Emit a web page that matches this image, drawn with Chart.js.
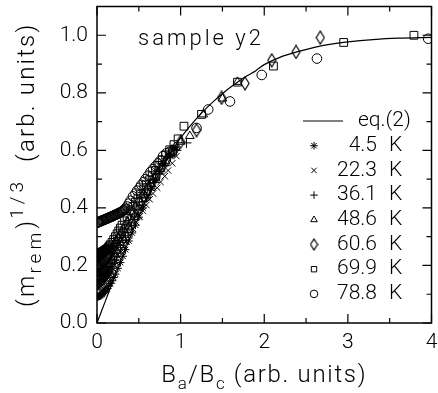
<!DOCTYPE html>
<html>
<head>
<meta charset="utf-8">
<script src="https://cdn.jsdelivr.net/npm/chart.js@4/dist/chart.umd.min.js"></script>
<style>
  html, body { margin: 0; padding: 0; background: #fff; }
  canvas { display: block; }
</style>
</head>
<body>
<canvas id="chart" width="438" height="393"></canvas>
<script>
// =========================================================================
// Data
// =========================================================================
const xTicks = [0, 1, 2, 3, 4];
const xMinor = [0.5, 1.5, 2.5, 3.5];
const yTicks = [0, 0.2, 0.4, 0.6, 0.8, 1.0];
const yMinor = [0.1, 0.3, 0.5, 0.7, 0.9];

// eq.(2) curve
const eqX = [0, 0.1, 0.2, 0.3, 0.4, 0.5, 0.6, 0.7, 0.8, 0.9, 1.0, 1.1, 1.2, 1.3, 1.4, 1.5, 1.6, 1.7, 1.8, 1.9, 2.0, 2.2, 2.4, 2.6, 2.8, 3.0, 3.3, 3.6, 4.0];
const eqY = [0, 0.076, 0.152, 0.226, 0.3, 0.37, 0.435, 0.495, 0.55, 0.6, 0.643, 0.68, 0.714, 0.744, 0.772, 0.797, 0.82, 0.841, 0.86, 0.877, 0.898, 0.925, 0.943, 0.958, 0.969, 0.977, 0.985, 0.99, 0.993];

const labels = ["4.5", "22.3", "36.1", "48.6", "60.6", "69.9", "78.8"];

// 4.5 K
const x45 = [0.00, 0.01, 0.02, 0.03, 0.04, 0.05, 0.06, 0.07, 0.08, 0.09, 0.10, 0.11, 0.12,
  0.14, 0.16, 0.18, 0.20, 0.22, 0.25, 0.28, 0.31, 0.34, 0.38, 0.42, 0.46, 0.50, 0.55, 0.60, 0.65, 0.70, 0.75, 0.80, 0.86, 0.92];
const y45 = [0.09, 0.091, 0.092, 0.094, 0.096, 0.098, 0.10, 0.103, 0.106, 0.109, 0.112, 0.116, 0.12,
  0.128, 0.137, 0.147, 0.158, 0.17, 0.19, 0.21, 0.232, 0.255, 0.285, 0.313, 0.34, 0.368, 0.40, 0.435, 0.468, 0.50, 0.528, 0.555, 0.585, 0.61];

// 22.3 K
const x223 = [0.00, 0.01, 0.02, 0.03, 0.04, 0.05, 0.06, 0.07, 0.08, 0.09, 0.10, 0.11, 0.12, 0.13, 0.14, 0.15,
  0.17, 0.19, 0.21, 0.23, 0.26, 0.29, 0.32, 0.35, 0.39, 0.43, 0.47, 0.51, 0.55, 0.59, 0.63, 0.67, 0.72, 0.76, 0.81, 0.85, 0.90, 0.95];
const y223 = [0.12, 0.121, 0.122, 0.124, 0.126, 0.128, 0.131, 0.134, 0.137, 0.14, 0.144, 0.148, 0.152, 0.157, 0.162, 0.167,
  0.177, 0.188, 0.20, 0.212, 0.23, 0.248, 0.265, 0.283, 0.305, 0.327, 0.35, 0.37, 0.39, 0.41, 0.43, 0.45, 0.47, 0.49, 0.51, 0.53, 0.555, 0.58];

// 36.1 K
const x361 = [0.00, 0.01, 0.02, 0.03, 0.04, 0.05, 0.06, 0.07, 0.08, 0.09, 0.10, 0.11, 0.12, 0.13, 0.14, 0.15,
  0.17, 0.19, 0.21, 0.23, 0.25, 0.28, 0.31, 0.34, 0.37, 0.41, 0.45, 0.49, 0.54, 0.59, 0.64, 0.69, 0.75, 0.81, 0.88, 0.95, 1.07];
const y361 = [0.14, 0.141, 0.142, 0.144, 0.146, 0.148, 0.151, 0.154, 0.157, 0.16, 0.164, 0.168, 0.172, 0.176, 0.18, 0.185,
  0.195, 0.206, 0.218, 0.23, 0.243, 0.262, 0.28, 0.298, 0.315, 0.337, 0.36, 0.382, 0.41, 0.437, 0.462, 0.488, 0.518, 0.548, 0.578, 0.60, 0.626];

// 48.6 K
const x486 = [0.00, 0.01, 0.02, 0.03, 0.04, 0.05, 0.06, 0.07, 0.08, 0.09, 0.10, 0.11, 0.12, 0.13, 0.14, 0.15,
  0.17, 0.19, 0.21, 0.23, 0.25, 0.28, 0.31, 0.34, 0.38, 0.42, 0.46, 0.50, 0.55, 0.60, 0.65, 0.70, 0.76, 0.82, 0.88, 0.94, 1.00, 1.11, 1.27, 1.50, 1.68];
const y486 = [0.17, 0.171, 0.172, 0.174, 0.175, 0.177, 0.179, 0.181, 0.184, 0.187, 0.19, 0.193, 0.197, 0.201, 0.205, 0.21,
  0.22, 0.23, 0.24, 0.251, 0.262, 0.278, 0.295, 0.312, 0.335, 0.357, 0.38, 0.402, 0.43, 0.455, 0.482, 0.505, 0.535, 0.562, 0.59, 0.612, 0.63, 0.65, 0.725, 0.78, 0.838];

// 60.6 K
const x606 = [0.00, 0.01, 0.02, 0.03, 0.04, 0.05, 0.06, 0.07, 0.08, 0.09, 0.10, 0.11, 0.12, 0.13, 0.14, 0.15,
  0.17, 0.19, 0.21, 0.23, 0.25, 0.27, 0.30, 0.33, 0.36, 0.39, 0.43, 0.47, 0.51, 0.56, 0.61, 0.66, 0.71, 0.77, 0.83, 0.90, 1.00, 1.19, 1.49, 1.77, 2.09, 2.38, 2.67];
const y606 = [0.20, 0.201, 0.202, 0.203, 0.204, 0.206, 0.208, 0.21, 0.213, 0.216, 0.219, 0.222, 0.226, 0.23, 0.234, 0.239,
  0.25, 0.26, 0.27, 0.28, 0.29, 0.30, 0.315, 0.33, 0.345, 0.36, 0.378, 0.398, 0.418, 0.442, 0.465, 0.49, 0.512, 0.54, 0.565, 0.595, 0.63, 0.67, 0.783, 0.833, 0.913, 0.942, 0.992];

// 69.9 K
const x699 = [0.000, 0.005, 0.010, 0.015, 0.020, 0.025, 0.030, 0.035, 0.040, 0.045, 0.050, 0.055, 0.060, 0.065, 0.070, 0.075, 0.080, 0.085, 0.090, 0.095, 0.100, 0.105, 0.110, 0.115, 0.120,
  0.13, 0.14, 0.15, 0.16, 0.18, 0.20, 0.22, 0.24, 0.26, 0.28, 0.30, 0.33, 0.36, 0.40, 0.43, 0.46, 0.49, 0.52, 0.56, 0.59, 0.63, 0.66, 0.70, 0.74, 0.78, 0.82, 0.87, 0.92, 0.97, 1.04, 1.25, 1.68, 2.11, 2.95, 3.79];
const y699 = [0.238, 0.239, 0.239, 0.240, 0.241, 0.241, 0.242, 0.243, 0.243, 0.244, 0.245, 0.245, 0.246, 0.247, 0.247, 0.248, 0.249, 0.250, 0.251, 0.252, 0.253, 0.254, 0.255, 0.256, 0.257,
  0.26, 0.264, 0.268, 0.272, 0.28, 0.29, 0.30, 0.31, 0.32, 0.33, 0.34, 0.355, 0.37, 0.39, 0.405, 0.42, 0.434, 0.448, 0.466, 0.48, 0.498, 0.512, 0.53, 0.548, 0.566, 0.584, 0.602, 0.62, 0.64, 0.684, 0.725, 0.837, 0.893, 0.975, 1.0];

// 78.8 K
const x788 = [0.00, 0.01, 0.02, 0.03, 0.04, 0.05, 0.06, 0.07, 0.08, 0.09, 0.10, 0.11, 0.12, 0.13, 0.14, 0.15, 0.16, 0.17, 0.18, 0.19, 0.20, 0.21, 0.22, 0.23, 0.24, 0.25, 0.26, 0.27, 0.28, 0.29, 0.30, 0.31, 0.32, 0.33, 0.34,
  0.36, 0.38, 0.40, 0.43, 0.46, 0.48, 0.51, 0.53, 0.56, 0.58, 0.61, 0.64, 0.67, 0.70, 0.73, 0.76, 0.79, 0.83, 0.87, 0.91, 1.19, 1.33, 1.59, 1.97, 2.63, 3.96];
const y788 = [0.348, 0.349, 0.351, 0.352, 0.353, 0.355, 0.356, 0.357, 0.358, 0.359, 0.361, 0.362, 0.363, 0.364, 0.366, 0.367, 0.368, 0.369, 0.371, 0.372, 0.373, 0.375, 0.376, 0.377, 0.379, 0.380, 0.382, 0.383, 0.385, 0.386, 0.388, 0.390, 0.392, 0.395, 0.398,
  0.405, 0.415, 0.425, 0.44, 0.45, 0.46, 0.47, 0.48, 0.49, 0.50, 0.512, 0.525, 0.535, 0.545, 0.555, 0.565, 0.58, 0.59, 0.595, 0.60, 0.678, 0.742, 0.77, 0.862, 0.919, 0.988];

// =========================================================================
// Styling helpers
// =========================================================================
const FONT = 'Roboto, "DejaVu Sans", sans-serif';
const WEIGHT = 300;

function pts(xs, ys) {
  return xs.map((x, i) => ({ x, y: ys[i] }));
}

// tall narrow diamond marker
function diamond(w, h) {
  const c = document.createElement("canvas");
  c.width = w + 2;
  c.height = h + 2;
  const g = c.getContext("2d");
  g.strokeStyle = "#000";
  g.lineWidth = 1.2;
  g.beginPath();
  g.moveTo(c.width / 2, 1);
  g.lineTo(c.width - 1, c.height / 2);
  g.lineTo(c.width / 2, c.height - 1);
  g.lineTo(1, c.height / 2);
  g.closePath();
  g.stroke();
  return c;
}

const styles = ["star", "crossRot", "cross", "triangle", diamond(8, 13), "rect", "circle"];
const radii = [4, 4.5, 5, 5, 5, 5.5, 4.8];
const legendStyles = ["star", "crossRot", "cross", "triangle", diamond(7, 11), "rect", "circle"];
const series = [[x45, y45], [x223, y223], [x361, y361], [x486, y486], [x606, y606], [x699, y699], [x788, y788]];

const datasets = [
  {
    label: "eq.(2)",
    data: pts(eqX, eqY),
    showLine: true,
    borderColor: "#000",
    borderWidth: 1.2,
    pointRadius: 0,
    tension: 0.3,
  },
  ...series.map(([xs, ys], i) => ({
    label: labels[i] + " K",
    data: pts(xs, ys),
    showLine: false,
    pointStyle: styles[i],
    pointRadius: radii[i],
    borderColor: "#000",
    backgroundColor: "rgba(0,0,0,0)",
    borderWidth: 1,
  })),
];

// =========================================================================
// Plugins: frame, inward ticks, titles, legend
// =========================================================================
// parts: {t, s} with s = "sub" | "sup" | undefined
function drawRich(ctx, parts, o) {
  const small = Math.round(o.size * o.smallScale);
  const setFor = (p) => {
    ctx.font = `${WEIGHT} ${p.s ? small : o.size}px ${FONT}`;
    ctx.letterSpacing = (p.s ? o.smallSpacing : o.spacing) + "px";
  };
  let w = 0;
  for (const p of parts) {
    setFor(p);
    w += ctx.measureText(p.t).width;
  }
  let x = -w / 2;
  for (const p of parts) {
    setFor(p);
    const dy = p.s === "sub" ? o.size * 0.3 : p.s === "sup" ? -o.size * 0.45 : 0;
    ctx.fillText(p.t, x, dy);
    x += ctx.measureText(p.t).width;
  }
  ctx.letterSpacing = "0px";
}

const decor = {
  id: "decor",
  afterDraw(chart) {
    const { ctx, chartArea: a, scales } = chart;
    const xs = scales.x, ys = scales.y;
    ctx.save();
    ctx.strokeStyle = "#000";
    ctx.fillStyle = "#000";

    // frame
    ctx.lineWidth = 1.5;
    ctx.strokeRect(a.left, a.top, a.right - a.left, a.bottom - a.top);

    // inward ticks on all four sides
    ctx.lineWidth = 1.2;
    ctx.beginPath();
    const tickX = (vals, len) => {
      for (const v of vals) {
        const px = xs.getPixelForValue(v);
        ctx.moveTo(px, a.bottom); ctx.lineTo(px, a.bottom - len);
        ctx.moveTo(px, a.top); ctx.lineTo(px, a.top + len);
      }
    };
    const tickY = (vals, len) => {
      for (const v of vals) {
        const py = ys.getPixelForValue(v);
        ctx.moveTo(a.left, py); ctx.lineTo(a.left + len, py);
        ctx.moveTo(a.right, py); ctx.lineTo(a.right - len, py);
      }
    };
    tickX(xTicks, 9); tickX(xMinor, 5);
    tickY(yTicks, 9); tickY(yMinor, 5);
    ctx.stroke();

    // axis titles
    ctx.textBaseline = "alphabetic";
    ctx.textAlign = "left";
    ctx.save();
    ctx.translate((a.left + a.right) / 2, 382);
    drawRich(ctx, [
      { t: "B" }, { t: "a", s: "sub" }, { t: "/B" }, { t: "c", s: "sub" }, { t: " (arb. units)" },
    ], { size: 24, spacing: 1.7, smallScale: 0.72, smallSpacing: 1.5 });
    ctx.restore();

    ctx.save();
    ctx.translate(34, (a.top + a.bottom) / 2);
    ctx.rotate(-Math.PI / 2);
    drawRich(ctx, [
      { t: "(m" }, { t: "rem", s: "sub" }, { t: ")" }, { t: "1/3", s: "sup" }, { t: "  (arb. units)" },
    ], { size: 24, spacing: 2.2, smallScale: 0.8, smallSpacing: 4 });
    ctx.restore();

    // annotation
    ctx.textBaseline = "middle";
    ctx.font = `${WEIGHT} 22px ${FONT}`;
    ctx.letterSpacing = "3px";
    ctx.fillText("sample y2", 138, 39);
    ctx.letterSpacing = "0px";

    // legend
    ctx.font = `${WEIGHT} 21px ${FONT}`;
    const ly0 = 121, step = 24.7;
    ctx.lineWidth = 1.2;
    ctx.beginPath();
    ctx.moveTo(303, ly0); ctx.lineTo(343, ly0);
    ctx.stroke();
    ctx.fillText("eq.(2)", 358, ly0);
    for (let i = 0; i < labels.length; i++) {
      const y = ly0 + step * (i + 1);
      ctx.fillStyle = "rgba(0,0,0,0)";
      ctx.lineWidth = 1;
      Chart.helpers.drawPoint(ctx, {
        pointStyle: legendStyles[i], radius: 3.8, borderWidth: 1, rotation: 0,
      }, 314, y);
      ctx.fillStyle = "#000";
      ctx.textAlign = "right";
      ctx.fillText(labels[i], 377, y);
      ctx.textAlign = "left";
      ctx.fillText("K", 389, y);
    }
    ctx.restore();
  },
};

// =========================================================================
// Chart
// =========================================================================
new Chart(document.getElementById("chart"), {
  type: "scatter",
  data: { datasets },
  options: {
    responsive: false,
    animation: false,
    layout: { padding: { top: 6, right: 6, left: 0, bottom: 0 } },
    plugins: { legend: { display: false }, tooltip: { enabled: false } },
    scales: {
      x: {
        type: "linear",
        min: 0,
        max: 4,
        afterBuildTicks: (s) => { s.ticks = xTicks.map((v) => ({ value: v })); },
        afterFit: (s) => { s.height = 70; s.paddingLeft = 0; s.paddingRight = 0; },
        grid: { display: false, drawTicks: false },
        border: { display: false },
        ticks: {
          color: "#000",
          padding: 7,
          maxRotation: 0,
          font: { family: FONT, size: 21, weight: WEIGHT },
          callback: (v) => String(v),
        },
      },
      y: {
        type: "linear",
        min: 0,
        max: 1.1,
        afterBuildTicks: (s) => { s.ticks = yTicks.map((v) => ({ value: v })); },
        afterFit: (s) => { s.width = 97; s.paddingTop = 0; s.paddingBottom = 0; },
        grid: { display: false, drawTicks: false },
        border: { display: false },
        ticks: {
          color: "#000",
          padding: 9,
          font: { family: FONT, size: 21, weight: WEIGHT },
          callback: (v) => v.toFixed(1),
        },
      },
    },
  },
  plugins: [decor],
});
</script>
</body>
</html>
